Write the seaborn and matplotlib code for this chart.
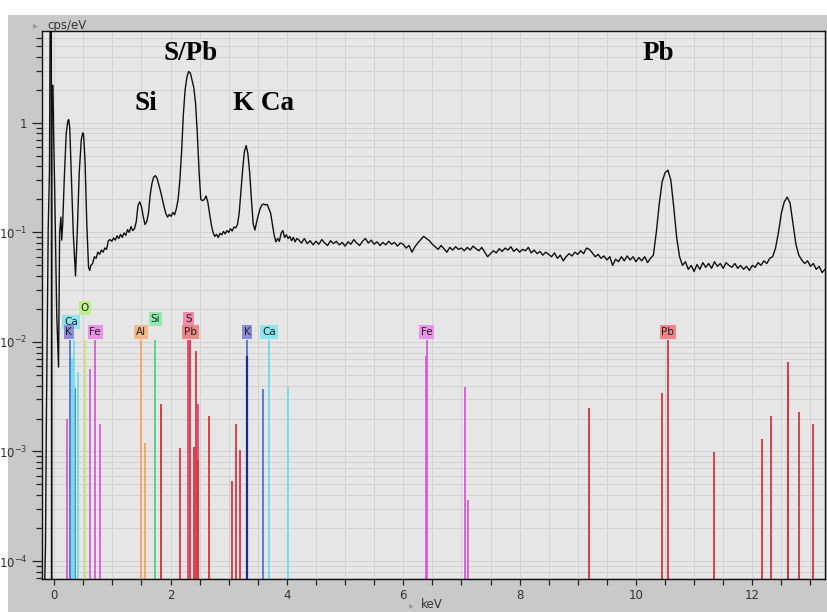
import numpy as np
import pandas as pd
import matplotlib
matplotlib.use("Agg")
import matplotlib.pyplot as plt
import seaborn as sns
from matplotlib.ticker import FixedLocator, FuncFormatter, MultipleLocator, NullFormatter
from matplotlib.patches import Rectangle

# ---------------- spectrum data (cps/eV) ----------------
low_kev = [-0.19, -0.164, -0.150, -0.134, -0.103, -0.081, -0.064, -0.050, -0.045, -0.040,
           -0.022, -0.010, 0.009, 0.043, 0.074, 0.093, 0.115, 0.129, 0.146, 0.172, 0.206,
           0.235, 0.250, 0.267, 0.292, 0.327, 0.366, 0.396, 0.430, 0.465, 0.490, 0.505,
           0.530, 0.560, 0.590, 0.610, 0.630]
low_cps = [3e-5, 6e-5, 1.4e-4, 0.0022, 0.11, 0.37, 60, 60, 2e-5, 2.2,
           2.2, 0.8, 0.23, 0.018, 0.0059, 0.10, 0.138, 0.085, 0.12, 0.3, 0.8,
           1.05, 1.07, 0.9, 0.35, 0.1, 0.040, 0.1, 0.35, 0.7, 0.81, 0.78,
           0.45, 0.12, 0.048, 0.045, 0.05]

# channels from 0.66 keV, 0.03 keV apart
mid_start, mid_step = 0.66, 0.03
mid_cps = [0.052, 0.060, 0.058, 0.066, 0.063, 0.069, 0.066, 0.072, 0.070, 0.084,
           0.086, 0.083, 0.089, 0.085, 0.093, 0.088, 0.096, 0.090, 0.099, 0.094,
           0.106, 0.100, 0.113, 0.104, 0.108, 0.125, 0.175, 0.19, 0.172, 0.14,
           0.118, 0.125, 0.15, 0.22, 0.28, 0.32, 0.33, 0.31, 0.27, 0.235,
           0.20, 0.17, 0.148, 0.138, 0.146, 0.14, 0.152, 0.145, 0.165, 0.20,
           0.30, 0.55, 1.2, 2.0, 2.6, 2.95, 2.85, 2.45, 2.1, 1.5,
           0.8, 0.36, 0.2, 0.195, 0.2, 0.215, 0.19, 0.15, 0.118, 0.1,
           0.092, 0.096, 0.090, 0.098, 0.095, 0.102, 0.097, 0.104, 0.1, 0.108,
           0.103, 0.112, 0.11, 0.118, 0.15, 0.24, 0.38, 0.55, 0.62, 0.52,
           0.35, 0.2, 0.12, 0.105, 0.125, 0.145, 0.165, 0.178, 0.182, 0.178,
           0.18, 0.165, 0.15, 0.12, 0.095, 0.082, 0.088, 0.083, 0.098, 0.104,
           0.09, 0.095, 0.088, 0.092, 0.084, 0.09, 0.082, 0.088]

# channels from 4.20 keV, 0.05 keV apart
high_start, high_step = 4.20, 0.05
high_cps = [0.086, 0.080, 0.088, 0.079, 0.084, 0.077, 0.083, 0.078, 0.086, 0.080,
            0.076, 0.084, 0.079, 0.083, 0.077, 0.081, 0.075, 0.082, 0.078, 0.086,
            0.080, 0.076, 0.083, 0.088, 0.080, 0.085, 0.078, 0.082, 0.076, 0.081,
            0.077, 0.083, 0.078, 0.081, 0.075, 0.080, 0.078, 0.072, 0.076, 0.066,
            0.074, 0.080, 0.086, 0.092, 0.088, 0.084, 0.078, 0.074, 0.070, 0.076,
            0.071, 0.066, 0.073, 0.069, 0.074, 0.070, 0.072, 0.068, 0.073, 0.069,
            0.075, 0.071, 0.068, 0.073, 0.066, 0.060, 0.064, 0.068, 0.065, 0.071,
            0.067, 0.072, 0.069, 0.074, 0.067, 0.071, 0.066, 0.070, 0.068, 0.073,
            0.065, 0.069, 0.064, 0.067, 0.062, 0.066, 0.063, 0.060, 0.065, 0.058,
            0.062, 0.055, 0.060, 0.064, 0.061, 0.066, 0.063, 0.068, 0.064, 0.072,
            0.070, 0.065, 0.060, 0.063, 0.058, 0.061, 0.056, 0.060, 0.050, 0.057,
            0.054, 0.060, 0.055, 0.061, 0.056, 0.060, 0.054, 0.059, 0.055, 0.060,
            0.053, 0.058, 0.062, 0.10, 0.18, 0.29, 0.35, 0.37, 0.30, 0.17,
            0.09, 0.060, 0.050, 0.054, 0.046, 0.050, 0.044, 0.051, 0.046, 0.053,
            0.048, 0.052, 0.047, 0.054, 0.049, 0.052, 0.047, 0.053, 0.050, 0.048,
            0.052, 0.047, 0.050, 0.046, 0.049, 0.045, 0.050, 0.048, 0.053, 0.050,
            0.055, 0.052, 0.058, 0.060, 0.072, 0.10, 0.15, 0.19, 0.21, 0.185,
            0.12, 0.078, 0.062, 0.056, 0.052, 0.055, 0.049, 0.052, 0.046, 0.049,
            0.043, 0.046]

# ---------------- element marker lines (keV, relative height) ----------------
k_kev = [0.265, 0.357, 3.313, 3.590]
k_h = [0.0104, 0.0038, 0.0104, 0.0037]
k_main_kev = [3.309]
k_main_h = [0.0075]
ca_kev = [0.305, 0.341, 0.408, 3.690, 4.012]
ca_h = [0.0071, 0.0104, 0.0053, 0.0104, 0.0039]
o_kev = [0.525]
o_h = [0.0104]
fe_kev = [0.225, 0.607, 0.705, 0.787, 6.398, 6.404, 7.057, 7.110]
fe_h = [0.0020, 0.0057, 0.0104, 0.0018, 0.0075, 0.0104, 0.0039, 0.00036]
al_kev = [1.486, 1.557]
al_h = [0.0104, 0.0012]
si_kev = [1.735, 1.740, 1.836]
si_h = [0.0074, 0.0104, 0.0025]
s_kev = [2.307, 2.464]
s_h = [0.0104, 0.0027]
pb_kev = [1.830, 2.170, 2.342, 2.400, 2.443, 2.480, 2.660, 3.050, 3.130, 3.200,
          9.185, 10.450, 10.551, 11.350, 12.170, 12.320, 12.610, 12.622, 12.800, 13.040]
pb_h = [0.0027, 0.00107, 0.0104, 0.0011, 0.0082, 0.00083, 0.0021, 0.00054, 0.00177, 0.00104,
        0.0025, 0.0034, 0.0104, 0.00099, 0.00129, 0.0021, 0.0052, 0.0066, 0.0023, 0.0018]

# labels: text, keV, height
tag_text = ["O", "Ca", "K", "Fe", "Al", "Si", "S", "Pb", "K", "Ca", "Fe", "Pb"]
tag_kev = [0.525, 0.29, 0.25, 0.705, 1.486, 1.74, 2.307, 2.342, 3.313, 3.69, 6.40, 10.55]
tag_h = [0.0205, 0.0152, 0.0123, 0.0123, 0.0123, 0.0162, 0.0162, 0.0123, 0.0123, 0.0123, 0.0123, 0.0123]

peak_text = ["S/Pb", "Si", "K Ca", "Pb"]
peak_kev = [2.35, 1.58, 3.59, 10.39]
peak_h = [3.76, 1.315, 1.315, 3.76]

# ---------------- styling ----------------
sns.set_style("ticks")
plt.rcParams['font.family'] = ['DejaVu Sans']

C = {
    "K": ("#4a72de", "#8c8cdc"),
    "Ca": ("#6fdbe6", "#8ee4ee"),
    "O": ("#c4e874", "#bdee8e"),
    "Fe": ("#d65ad9", "#e892e8"),
    "Al": ("#f0a464", "#f3b888"),
    "Si": ("#4fd68e", "#93eab0"),
    "S": ("#e0456e", "#ef8cae"),
    "Pb": ("#d8343f", "#ef8686"),
}

W, H = 828, 612
fig = plt.figure(figsize=(W / 100, H / 100), dpi=100, facecolor='#c9c9c9')
fig.patches.append(Rectangle((0, 1 - 15 / H), 1, 15 / H, transform=fig.transFigure,
                             facecolor='white', edgecolor='none', zorder=-5))
fig.patches.append(Rectangle((0, 0), 8 / W, 1, transform=fig.transFigure,
                             facecolor='white', edgecolor='none', zorder=-5))

ax = fig.add_axes([42 / W, 1 - 579 / H, (825 - 42) / W, (579 - 31) / H])
ax.set_facecolor('#e6e6e6')

# spectrum frame
mid_kev = mid_start + mid_step * np.arange(len(mid_cps))
high_kev = high_start + high_step * np.arange(len(high_cps))
spec = pd.DataFrame({
    "keV": np.concatenate([low_kev, mid_kev, high_kev]),
    "cps": np.concatenate([low_cps, mid_cps, high_cps]),
})

ax.set_yscale('log')
ax.set_xlim(-0.21, 13.25)
ax.set_ylim(6.85e-5, 6.9)

# marker lines
ybot = 1e-6
def draw_lines(kev, h, color, lw=1.3):
    ax.vlines(kev, ybot, h, colors=color, linewidth=lw, zorder=2)

draw_lines(k_kev, k_h, C["K"][0])
draw_lines(k_main_kev, k_main_h, "#1f2a9a", lw=1.6)
draw_lines(ca_kev, ca_h, C["Ca"][0])
draw_lines(o_kev, o_h, C["O"][0])
draw_lines(fe_kev, fe_h, C["Fe"][0])
draw_lines(al_kev, al_h, C["Al"][0])
draw_lines(si_kev, si_h, C["Si"][0])
draw_lines(s_kev, s_h, C["S"][0])
draw_lines(pb_kev, pb_h, C["Pb"][0])

sns.lineplot(data=spec, x="keV", y="cps", ax=ax, color='#111111', linewidth=1.0,
             estimator=None, sort=False, zorder=3)

for t, x, y in zip(tag_text, tag_kev, tag_h):
    ax.text(x, y, t, ha='center', va='center', fontsize=7.5, color='#222222', zorder=4,
            bbox=dict(boxstyle='square,pad=0.18', facecolor=C[t][1], edgecolor='none'))

for t, x, y in zip(peak_text, peak_kev, peak_h):
    ax.text(x, y, t, ha='center', va='baseline', fontsize=19.5, fontweight='bold',
            family='Liberation Serif', color='black', zorder=5)

# axes & ticks
ax.xaxis.set_major_locator(FixedLocator([0, 2, 4, 6, 8, 10, 12]))
ax.xaxis.set_minor_locator(MultipleLocator(0.5))
ax.yaxis.set_major_locator(FixedLocator([1e-4, 1e-3, 1e-2, 1e-1, 1]))
minor_y = [m * 10.0 ** e for e in range(-5, 1) for m in range(2, 10)]
ax.yaxis.set_minor_locator(FixedLocator(minor_y))
ax.yaxis.set_minor_formatter(NullFormatter())

def yfmt(v, pos):
    e = int(round(np.log10(v)))
    return '1' if e == 0 else r'$10^{%d}$' % e
ax.yaxis.set_major_formatter(FuncFormatter(yfmt))

ax.tick_params(axis='both', which='both', direction='out', colors='#222222',
               labelcolor='#333333', labelsize=8.5, width=0.9)
ax.tick_params(axis='y', which='major', length=7)
ax.tick_params(axis='y', which='minor', length=4)
ax.tick_params(axis='x', which='both', length=4, pad=3)

ax.grid(True, which='both', color='#d2d2d2', linewidth=0.7, zorder=0)
ax.set_axisbelow(True)
for s in ax.spines.values():
    s.set_color('#111111')
    s.set_linewidth(1.0)
ax.set_xlabel('')
ax.set_ylabel('')

fig.text(33 / W, 1 - 25 / H, '\u25B8', fontsize=7, color='#9a9a9a', ha='left', va='center')
fig.text(47 / W, 1 - 25 / H, 'cps/eV', fontsize=8.5, color='#333333', ha='left', va='center')
fig.text(409 / W, 1 - 605 / H, '\u25B8', fontsize=7, color='#9a9a9a', ha='left', va='center')
fig.text(421 / W, 1 - 605 / H, 'keV', fontsize=8.5, color='#333333', ha='left', va='center')

fig.savefig('out.png', dpi=100, facecolor=fig.get_facecolor())
